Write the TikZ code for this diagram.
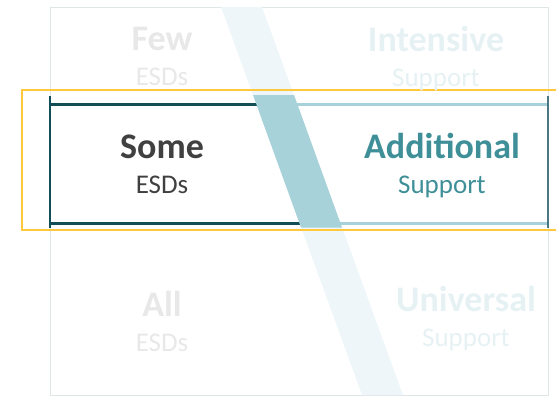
\documentclass[tikz,border=0pt]{standalone}
\usepackage{fontspec}
\setmainfont{Carlito}
\usetikzlibrary{calc, positioning}
\definecolor{framegray}{HTML}{DFE6E8}
\definecolor{diagfaint}{HTML}{EEF6F9}
\definecolor{bandteal}{HTML}{A8D2D9}
\definecolor{darkteal}{HTML}{124E58}
\definecolor{edgeteal}{HTML}{4A7882}
\definecolor{gold}{HTML}{FFC83D}
\definecolor{textdark}{HTML}{404040}
\definecolor{textteal}{HTML}{3F8F98}
\definecolor{fadedgray}{HTML}{E8E8E8}
\definecolor{fadedteal}{HTML}{E6F1F4}
\tikzset{
    wordnode/.style = {draw=none, fill=none, rectangle, inner sep = 0em, 
      text height=0.7em, text depth=0.2em, node distance=0em, font=\fontsize{36}{40}\selectfont\bfseries},
    subnode/.style = {draw=none, fill=none, rectangle, inner sep = 0em, 
      text height=0.7em, text depth=0.2em, node distance=0em, font=\fontsize{27}{30}\selectfont},
    frameline/.style = {draw=framegray, line width=1pt},
    bandline/.style = {line width=3.5pt},
    edgeline/.style = {line width=1.2pt},
    goldbox/.style = {draw=gold, line width=2pt}
}

\begin{document}
\begin{tikzpicture}[x=1pt, y=-1pt]
\useasboundingbox (0,0) rectangle (556,396);

\draw [frameline] (50,8) rectangle (548,395);
\fill [diagfaint] (221,7) -- (262,7) -- (403,395) -- (362,395) -- cycle;

\draw [bandline, darkteal] (50,104.5) -- (277,104.5);
\draw [bandline, bandteal] (277,104.5) -- (547,104.5);
\draw [bandline, darkteal] (50,223.5) -- (321,223.5);
\draw [bandline, bandteal] (321,223.5) -- (547,223.5);
\draw [edgeline, darkteal] (50,96) -- (50,228);
\draw [edgeline, edgeteal] (548,96) -- (548,228);
\fill [bandteal] (253,95) -- (294,95) -- (342,227.5) -- (301,227.5) -- cycle;

\draw [goldbox] (22,89.5) rectangle (570,229.5);

\node [wordnode, name = few, color = fadedgray] at (162,48) {Few};
\node [subnode, name = fewesds, below of = few, yshift = -35pt, color = fadedgray] {ESDs};

\node [wordnode, name = intensive, color = fadedteal] at (436,49) {Intensive};
\node [subnode, name = intensivesupport, below of = intensive, yshift = -35pt, color = fadedteal] {Support};

\node [wordnode, name = some, color = textdark] at (162,156) {Some};
\node [subnode, name = someesds, below of = some, yshift = -35pt, color = textdark] {ESDs};

\node [wordnode, name = additional, color = textteal] at (442,156) {Additional};
\node [subnode, name = additionalsupport, below of = additional, yshift = -35pt, color = textteal] {Support};

\node [wordnode, name = all, color = fadedgray] at (162,314) {All};
\node [subnode, name = allesds, below of = all, yshift = -35pt, color = fadedgray] {ESDs};

\node [wordnode, name = universal, color = fadedteal] at (466,309) {Universal};
\node [subnode, name = universalsupport, below of = universal, yshift = -35pt, color = fadedteal] {Support};

\end{tikzpicture}
\end{document}
